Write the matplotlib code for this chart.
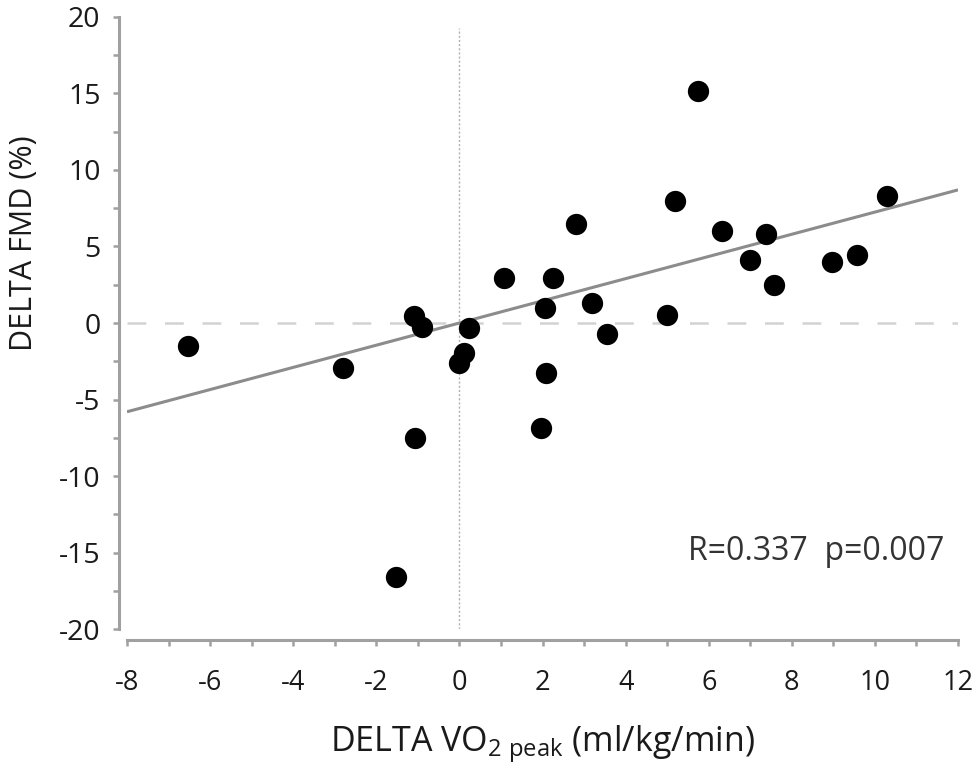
import matplotlib
matplotlib.use("Agg")
import matplotlib.pyplot as plt
from matplotlib.ticker import MultipleLocator

plt.rcParams['font.family'] = ['Open Sans', 'DejaVu Sans']
plt.rcParams['mathtext.fontset'] = 'custom'
plt.rcParams['mathtext.rm'] = 'Open Sans'
plt.rcParams['mathtext.it'] = 'Open Sans'
plt.rcParams['mathtext.bf'] = 'Open Sans'

# Data
delta_vo2 = [5.74, 10.29, 5.20, 2.80, 6.33, 7.37, 6.99, 8.96, 9.58, 7.56,
             1.08, 2.25, 2.05, 3.18, 5.00, 3.56, 0.22, 0.10, -0.02, 2.09,
             -6.54, -2.80, -1.10, -0.90, -1.06, -1.52, 1.97]
delta_fmd = [15.18, 8.32, 7.97, 6.47, 6.03, 5.82, 4.12, 3.99, 4.44, 2.48,
             2.92, 2.92, 0.96, 1.29, 0.52, -0.74, -0.31, -1.94, -2.60, -3.29,
             -1.50, -2.92, 0.46, -0.24, -7.54, -16.58, -6.88]
fit_x = [-8, 12]
fit_y = [-5.8, 8.7]
x_ticks = [-8, -6, -4, -2, 0, 2, 4, 6, 8, 10, 12]
y_ticks = [-20, -15, -10, -5, 0, 5, 10, 15, 20]
annotation = "R=0.337  p=0.007"

fig = plt.figure(figsize=(9.77, 7.72), dpi=100)
ax = fig.add_axes([0.130, 0.1852, 0.8506, 0.7928])

ax.set_xlim(-8, 12)
ax.set_ylim(-20, 20)

spine_c = '#a0a0a0'
text_c = '#1a1a1a'
# Reference lines
ax.axhline(0, color='#d2d2d2', lw=1.8, linestyle=(0, (7.5, 7.5)), zorder=1)
ax.plot([0, 0], [-20, 19.3], color='#b0b0b0', lw=1.0, linestyle=(0, (1.5, 1.5)), zorder=1)

# Regression line
ax.plot(fit_x, fit_y, color='#8c8c8c', lw=2.2, zorder=2, solid_capstyle='butt')

# Points
ax.scatter(delta_vo2, delta_fmd, s=235, color='black', zorder=3, linewidths=0)

for s in ['top', 'right']:
    ax.spines[s].set_visible(False)
ax.spines['left'].set_position(('outward', 6))
ax.spines['bottom'].set_position(('outward', 8))
for s in ['left', 'bottom']:
    ax.spines[s].set_color(spine_c)
    ax.spines[s].set_linewidth(2.2)

ax.set_xticks(x_ticks)
ax.set_yticks(y_ticks)
ax.set_xticklabels([str(v) for v in x_ticks])
ax.set_yticklabels([str(v) for v in y_ticks])
ax.xaxis.set_minor_locator(MultipleLocator(1))
ax.yaxis.set_minor_locator(MultipleLocator(2.5))
ax.tick_params(axis='both', which='both', direction='out', length=4, width=1.8,
               color=spine_c, labelcolor=text_c)
ax.tick_params(axis='x', which='major', pad=17, labelsize=19.5)
ax.tick_params(axis='y', which='major', pad=9, labelsize=20.5)

ax.set_xlabel(r"DELTA VO$_{2\ \mathrm{peak}}$ (ml/kg/min)", fontsize=24.5, color=text_c, labelpad=19)
ax.set_ylabel("DELTA FMD (%)", fontsize=22, color=text_c)
ax.yaxis.set_label_coords(-0.106, 0.63)

ax.text(0.984, 0.127, annotation, transform=ax.transAxes, ha='right', va='center',
        fontsize=23, color='#333333')

fig.savefig("out.png", dpi=100)
